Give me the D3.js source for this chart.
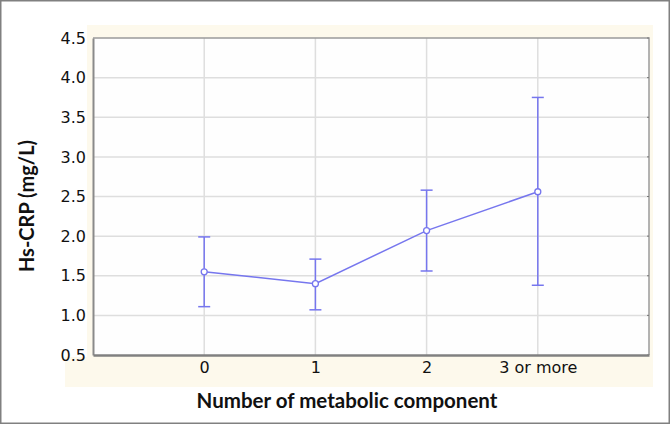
<!DOCTYPE html>
<html>
<head>
<meta charset="utf-8">
<script src="https://cdn.jsdelivr.net/npm/d3@7"></script>
<style>
  body { margin: 0; background: #fff; }
</style>
</head>
<body>
<svg width="670" height="424"></svg>
<script>
// data
var categories = ["0", "1", "2", "3 or more"];
var means = [1.55, 1.40, 2.07, 2.56];
var upper = [1.99, 1.71, 2.58, 3.75];
var lower = [1.11, 1.07, 1.56, 1.38];
var yTicks = [0.5, 1.0, 1.5, 2.0, 2.5, 3.0, 3.5, 4.0, 4.5];

var svg = d3.select("svg");
var plotLeft = 93, plotRight = 649, plotTop = 38, plotBottom = 355;
var lineColor = "#7676ee";
var tickFont = "'DejaVu Sans', sans-serif";
var titleFont = "Lato, sans-serif";

//outer frame
svg.append("rect")
  .attr("x", 0.75).attr("y", 0.75)
  .attr("width", 668.5).attr("height", 422.5)
  .attr("fill", "#fff").attr("stroke", "#808080").attr("stroke-width", 1.5);

//cream backing behind the plot
svg.append("rect")
  .attr("x", 87).attr("y", 25).attr("width", 566).attr("height", 362)
  .attr("fill", "#fdf9ec");
svg.append("rect")
  .attr("x", 65).attr("y", 357).attr("width", 30).attr("height", 30)
  .attr("fill", "#fdf9ec");

svg.append("rect")
  .attr("x", plotLeft).attr("y", plotTop)
  .attr("width", plotRight - plotLeft).attr("height", plotBottom - plotTop)
  .attr("fill", "#fefefe");

var x = d3.scalePoint().domain(categories).range([plotLeft, plotRight]).padding(1);
var y = d3.scaleLinear().domain([0.5, 4.5]).range([plotBottom, plotTop]);

//grid
svg.append("g").selectAll("line")
  .data(yTicks.slice(1, -1))
  .enter().append("line")
  .attr("x1", plotLeft).attr("x2", plotRight)
  .attr("y1", function(d) { return y(d); })
  .attr("y2", function(d) { return y(d); })
  .attr("stroke", "#dedede").attr("stroke-width", 1.5);

svg.append("g").selectAll("line")
  .data(categories)
  .enter().append("line")
  .attr("x1", function(d) { return x(d); })
  .attr("x2", function(d) { return x(d); })
  .attr("y1", plotTop).attr("y2", plotBottom)
  .attr("stroke", "#dedede").attr("stroke-width", 1.5);

//frame of the plot: light top/right, darker left/bottom
svg.append("path")
  .attr("d", "M" + plotLeft + "," + plotTop + "H" + plotRight + "V" + plotBottom)
  .attr("fill", "none").attr("stroke", "#9a9a9a").attr("stroke-width", 1.5);

//small inward ticks on right side
svg.append("g").selectAll("line")
  .data(yTicks)
  .enter().append("line")
  .attr("x1", plotRight - 2).attr("x2", plotRight)
  .attr("y1", function(d) { return y(d); })
  .attr("y2", function(d) { return y(d); })
  .attr("stroke", "#777");

var yAxis = svg.append("g")
  .attr("transform", "translate(" + plotLeft + ",0)")
  .call(d3.axisLeft(y).tickValues(yTicks).tickFormat(d3.format(".1f")).tickSize(0).tickPadding(7));
yAxis.select(".domain").attr("stroke", "#8a8a8a").attr("stroke-width", 2);
yAxis.selectAll("text").attr("font-size", 16).attr("fill", "#111")
  .style("font-family", tickFont);

var xAxis = svg.append("g")
  .attr("transform", "translate(0," + plotBottom + ")")
  .call(d3.axisBottom(x).tickSize(0).tickPadding(7));
xAxis.select(".domain").attr("stroke", "#808080").attr("stroke-width", 2.5);
xAxis.selectAll("text").attr("font-size", 16).attr("fill", "#111")
  .style("font-family", tickFont);

//error bars
var bars = svg.append("g").attr("stroke", lineColor).attr("stroke-width", 1.5);
categories.forEach(function(c, i) {
  bars.append("line")
    .attr("x1", x(c)).attr("x2", x(c))
    .attr("y1", y(upper[i])).attr("y2", y(lower[i]));
  [upper[i], lower[i]].forEach(function(v) {
    bars.append("line")
      .attr("x1", x(c) - 6).attr("x2", x(c) + 6)
      .attr("y1", y(v)).attr("y2", y(v));
  });
});

var line = d3.line()
  .x(function(d, i) { return x(categories[i]); })
  .y(function(d) { return y(d); });

svg.append("path")
  .datum(means)
  .attr("d", line)
  .attr("fill", "none").attr("stroke", lineColor).attr("stroke-width", 1.5);

svg.append("g").selectAll("circle")
  .data(means)
  .enter().append("circle")
  .attr("cx", function(d, i) { return x(categories[i]); })
  .attr("cy", function(d) { return y(d); })
  .attr("r", 3)
  .attr("fill", "#fff").attr("stroke", lineColor).attr("stroke-width", 1.3);

//titles
svg.append("text")
  .attr("x", 347).attr("y", 408)
  .attr("text-anchor", "middle")
  .style("font-family", titleFont)
  .attr("font-size", 20.5).attr("font-weight", "bold").attr("fill", "#111")
  .text("Number of metabolic component");

svg.append("text")
  .attr("transform", "translate(34,206) rotate(-90)")
  .attr("text-anchor", "middle")
  .style("font-family", titleFont)
  .attr("font-size", 20).attr("font-weight", "bold").attr("fill", "#111")
  .text("Hs-CRP (mg/L)");
</script>
</body>
</html>
